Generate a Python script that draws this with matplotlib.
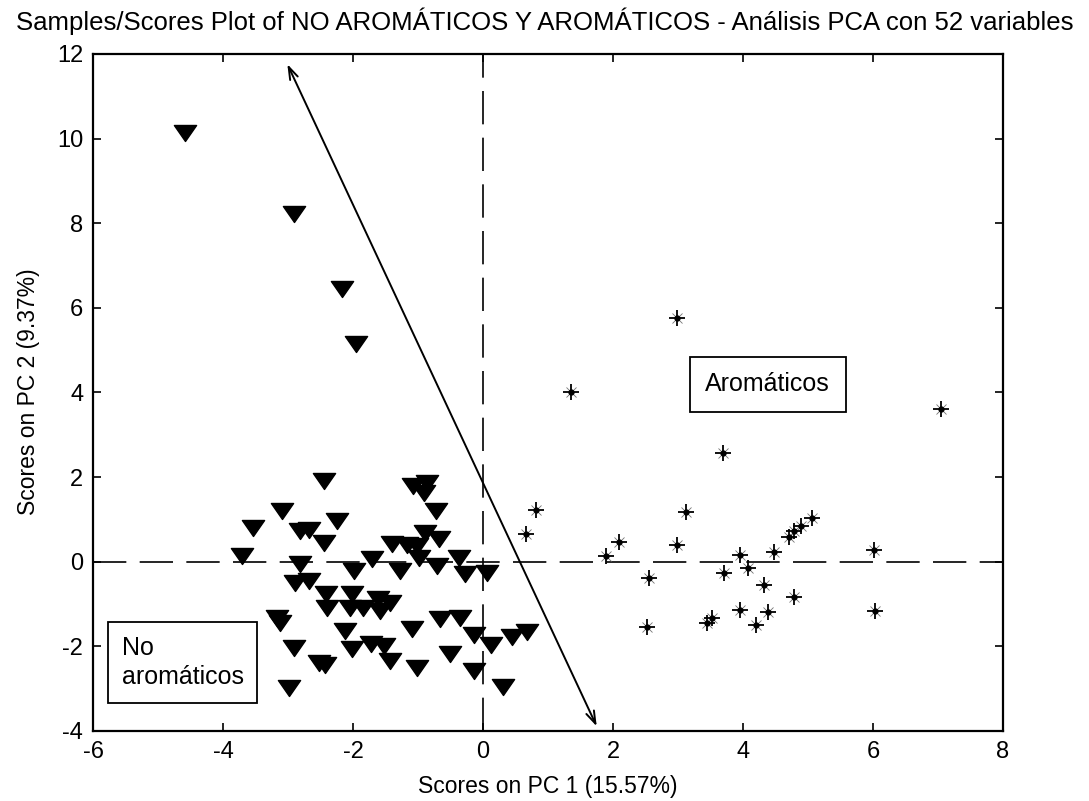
import matplotlib
matplotlib.use("Agg")
import matplotlib.pyplot as plt
from matplotlib.path import Path

# scores of the non-aromatic samples (PC1, PC2)
no_arom_x = [-4.58, -2.90, -2.17, -1.95,
             -2.44, -1.07, -0.86, -0.91, -0.73, -3.09, -3.54, -2.81, -2.68,
             -2.45, -2.24, -0.89, -0.68, -1.40, -1.17, -1.02, -3.71, -2.81,
             -2.89, -2.68, -1.71, -1.99, -0.99, -1.27, -0.71, -0.37, -0.27,
             0.06, -2.41, -2.40, -2.02, -2.04, -1.84, -1.61, -1.43, -1.58,
             -3.17, -3.13, -2.12, -1.09, -0.66, -0.35, -0.14, 0.13, 0.44,
             0.67, -2.91, -2.02, -1.73, -1.53, -1.43, -2.53, -2.43, -1.02,
             -0.50, -0.14, -2.99, 0.31]
no_arom_y = [10.13, 8.22, 6.45, 5.15,
             1.92, 1.79, 1.87, 1.63, 1.21, 1.21, 0.80, 0.72, 0.76,
             0.45, 0.96, 0.69, 0.53, 0.41, 0.39, 0.37, 0.13, -0.06,
             -0.50, -0.46, 0.06, -0.22, 0.09, -0.22, -0.10, 0.09, -0.30,
             -0.26, -0.77, -1.09, -0.77, -1.09, -1.09, -0.89, -0.97, -1.17,
             -1.32, -1.44, -1.64, -1.60, -1.36, -1.32, -1.72, -1.96, -1.77,
             -1.65, -2.03, -2.07, -1.95, -1.99, -2.35, -2.39, -2.43, -2.51,
             -2.19, -2.58, -2.98, -2.95]

# scores of the aromatic samples
arom_x = [2.98, 1.36, 7.05, 3.70, 0.81, 3.13, 0.66, 5.06, 4.90, 4.79,
          4.71, 2.10, 2.99, 1.90, 4.48, 6.01, 3.96, 4.08, 3.71, 2.55,
          4.33, 4.78, 3.96, 4.39, 6.03, 3.45, 3.52, 4.20, 2.53]
arom_y = [5.75, 4.01, 3.61, 2.57, 1.22, 1.18, 0.66, 1.03, 0.85, 0.73,
          0.58, 0.46, 0.39, 0.14, 0.22, 0.28, 0.17, -0.15, -0.27, -0.39,
          -0.54, -0.83, -1.14, -1.18, -1.16, -1.44, -1.32, -1.50, -1.54]

# loading arrow (start, end)
arrow_start = (1.75, -3.89)
arrow_end = (-3.01, 11.76)

title = "Samples/Scores Plot of NO AROMÁTICOS Y AROMÁTICOS - Análisis PCA con 52 variables"
xlab = "Scores on PC 1 (15.57%)"
ylab = "Scores on PC 2 (9.37%)"

plt.rcParams['font.family'] = ['Liberation Sans', 'DejaVu Sans']
plt.rcParams['axes.unicode_minus'] = False

fig = plt.figure(figsize=(10.89, 8.01), dpi=100)
ax = fig.add_axes([0.0854, 0.0874, 0.8356, 0.8452])

# flat downward triangle like the MATLAB marker
tri = Path([(-1, 0.72), (1, 0.72), (0, -0.72), (-1, 0.72)],
           [Path.MOVETO, Path.LINETO, Path.LINETO, Path.CLOSEPOLY])

ax.axhline(0, color='black', lw=1.2, ls=(0, (20, 8)), zorder=1)
ax.axvline(0, color='black', lw=1.2, ls=(0, (20, 8)), zorder=1)

ax.plot(no_arom_x, no_arom_y, ls='none', marker=tri, ms=16,
        mfc='black', mec='black', zorder=3)

ax.plot(arom_x, arom_y, ls='none', marker='x', ms=7, mew=0.6,
        color='0.45', zorder=3)
ax.plot(arom_x, arom_y, ls='none', marker='+', ms=11, mew=1.3,
        color='black', zorder=4)
ax.plot(arom_x, arom_y, ls='none', marker='o', ms=3.5,
        color='black', zorder=4)

ax.annotate('', xy=arrow_start, xytext=arrow_end,
            arrowprops=dict(arrowstyle='<->,head_length=0.9,head_width=0.3',
                            color='black', lw=1.4, shrinkA=0, shrinkB=0),
            zorder=5)

ax.text(4.38, 4.20, 'Aromáticos', fontsize=18, ha='center', va='center',
        bbox=dict(boxstyle='square,pad=0.62', fc='white', ec='black', lw=1.3),
        zorder=6)
ax.text(-4.62, -2.38, 'No\naromáticos', fontsize=18, ha='center', va='center',
        multialignment='left', linespacing=1.25,
        bbox=dict(boxstyle='square,pad=0.55', fc='white', ec='black', lw=1.3),
        zorder=6)

ax.set_xlim(-6, 8)
ax.set_ylim(-4, 12)
ax.set_xticks(range(-6, 9, 2))
ax.set_yticks(range(-4, 13, 2))
ax.tick_params(direction='in', length=6, width=1.2, top=True, right=True,
               labelsize=17, pad=7)
for sp in ax.spines.values():
    sp.set_linewidth(1.6)

fig.text(0.5, 1 - 21 / 801, title, fontsize=18.5, ha='center', va='center')
fig.text(548 / 1089, 1 - 787 / 801, xlab, fontsize=16.5, ha='center', va='center')
fig.text(29 / 1089, 1 - 392 / 801, ylab, fontsize=16.5, ha='center', va='center',
         rotation=90)

fig.savefig('out.png', dpi=100)
